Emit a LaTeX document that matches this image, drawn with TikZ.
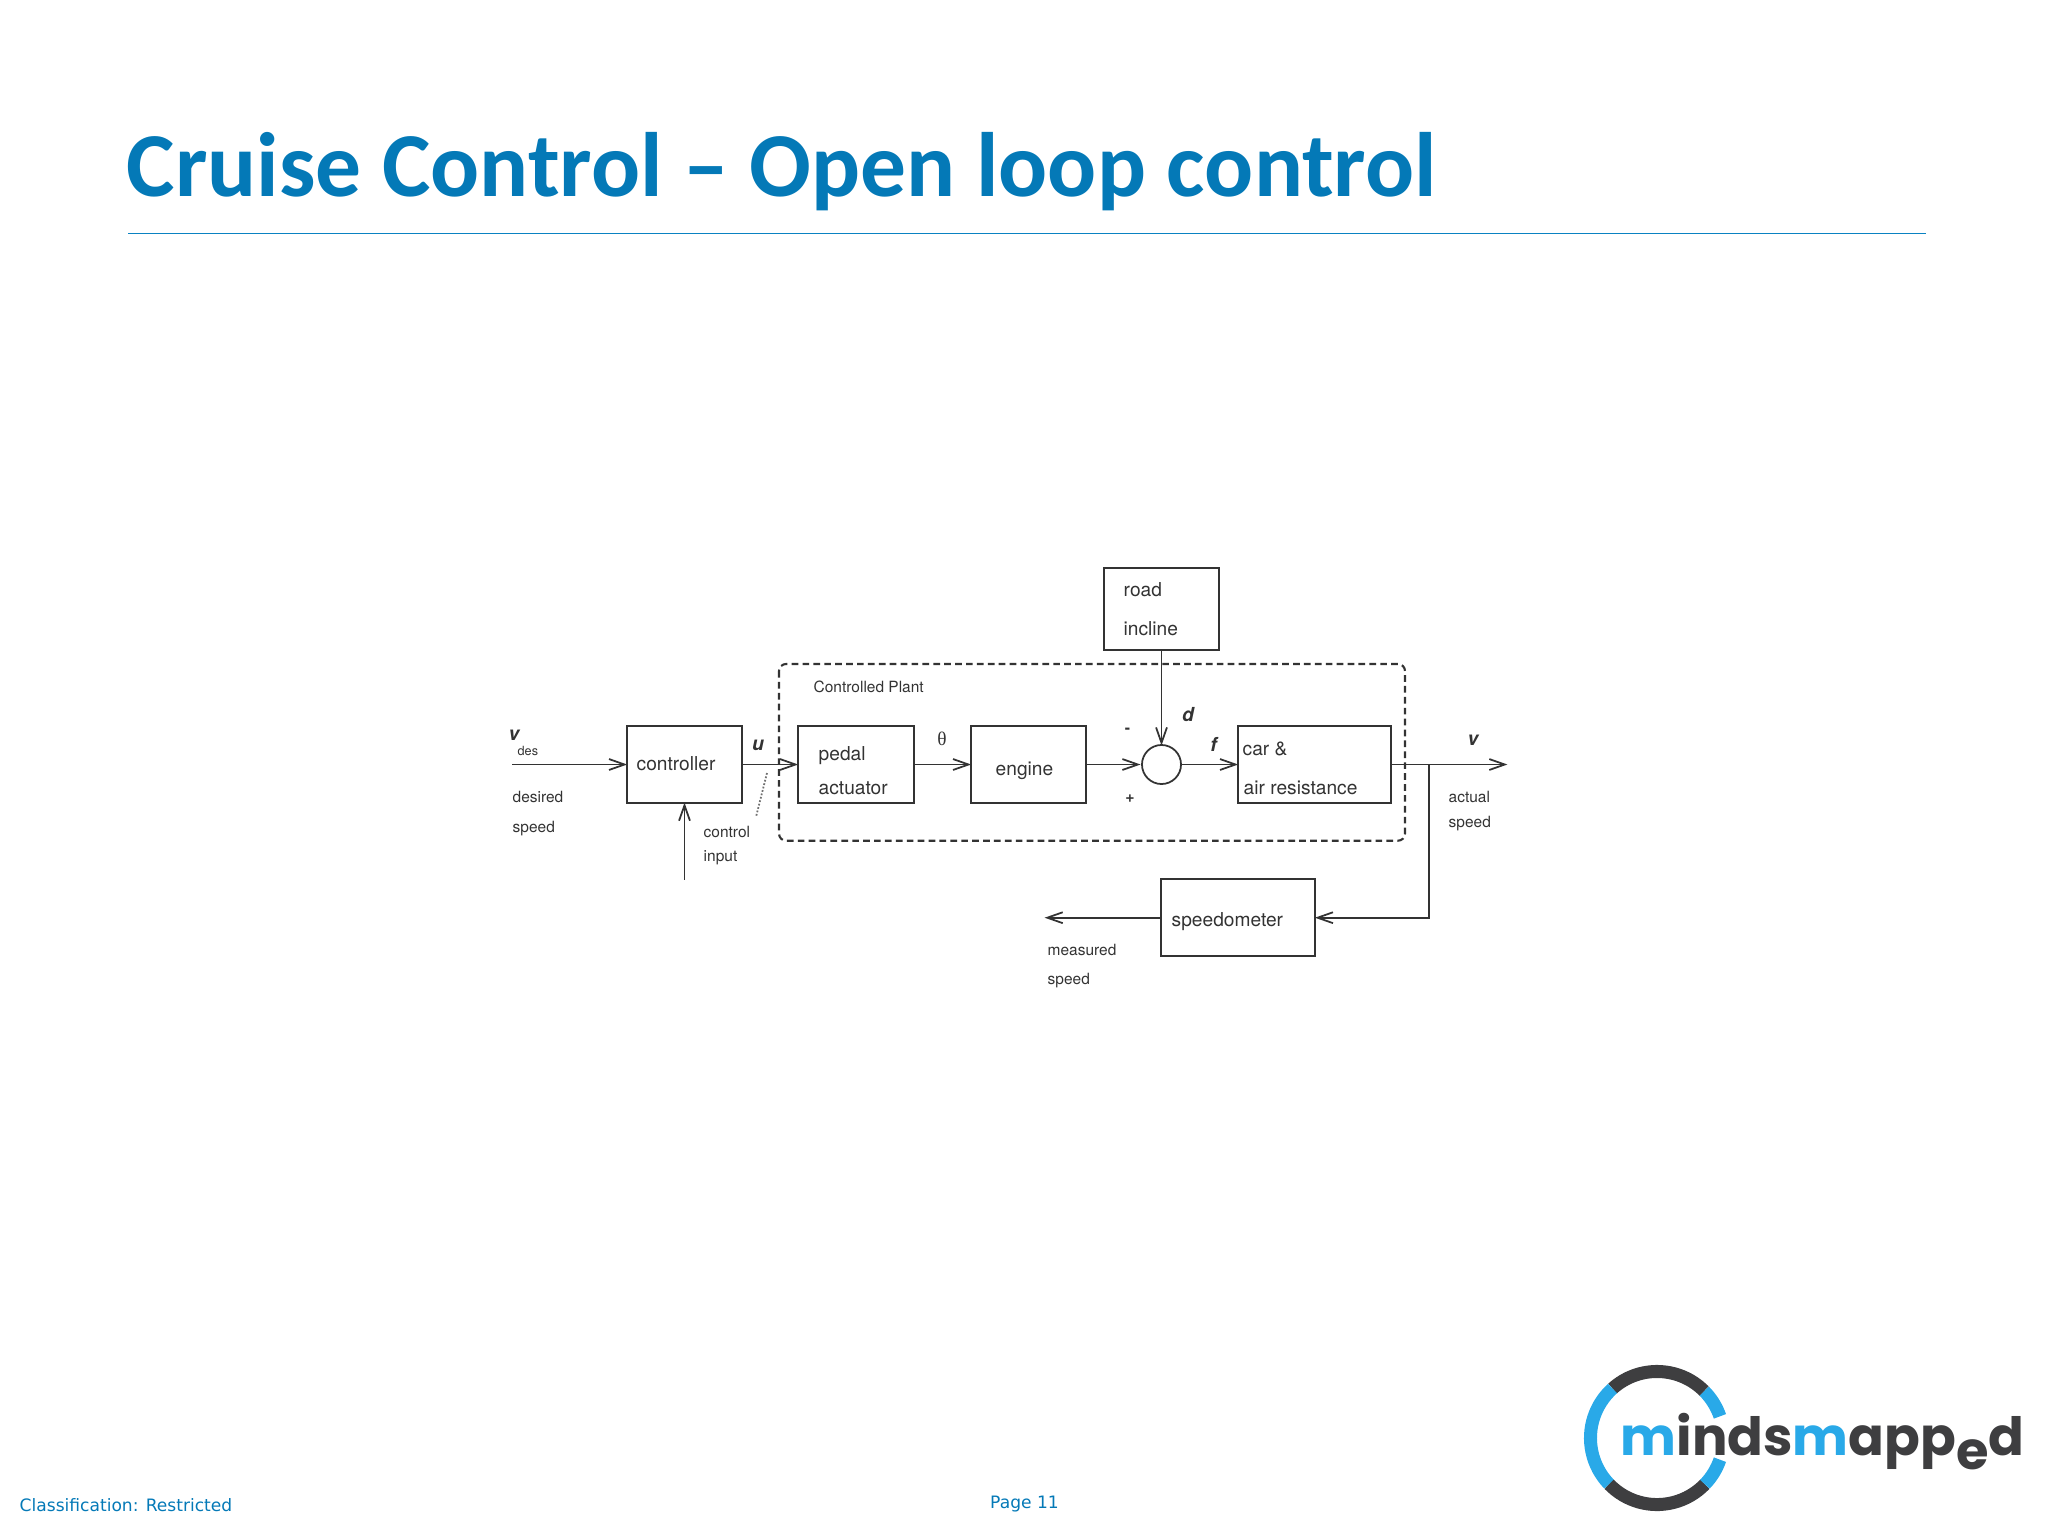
\documentclass[tikz,border=0pt]{standalone}
\usepackage{fontspec}
\setmainfont{TeX Gyre Heros}
\newfontfamily\titlefont{Carlito}
\newfontfamily\footfont{DejaVu Sans}
\newfontfamily\logofont{Poppins}
\newfontfamily\thetafont{Liberation Serif}
\usetikzlibrary{calc,arrows.meta}
\definecolor{slideblue}{HTML}{0479B7}
\definecolor{ruleblue}{HTML}{0A82C2}
\definecolor{inkgray}{HTML}{333333}
\definecolor{logoblue}{HTML}{29A9E8}
\definecolor{logodark}{HTML}{3E3E40}
\tikzset{
    blockbox/.style={draw=inkgray,line width=0.7pt,inner sep=0pt},
    sig/.style={draw=inkgray,line width=0.5pt,shorten >=-0.4pt,-{Straight Barb[length=4.4pt,width=3.1pt]}},
    lbl/.style={anchor=base west,inner sep=0pt,text=inkgray,font=\fontsize{5.45}{6}\selectfont},
    smalllbl/.style={lbl,font=\fontsize{4.4}{5}\selectfont},
    symlbl/.style={anchor=center,inner sep=0pt,text=inkgray,font=\fontsize{5.5}{6}\selectfont\bfseries\itshape},
    footlbl/.style={anchor=center,inner sep=0pt,text=slideblue,font=\footfont\fontsize{4.86}{6}\selectfont}
}

\begin{document}
\begin{tikzpicture}[x=0.01cm,y=-0.01cm]
        % Fix the page to the size of the slide
        \useasboundingbox (0,0) rectangle (2048,1536);
        % Title and the rule under it
        \node[anchor=west,inner sep=0pt,text=slideblue,font=\titlefont\fontsize{26}{28}\selectfont\bfseries] (title) at (126,172) {Cruise Control – Open loop control};
        \coordinate (ruleL) at (128,233.5);
        \coordinate (ruleR) at (1926,233.5);
        \draw[ruleblue,line width=0.5pt] (ruleL) -- (ruleR);
        % Blocks of the loop
        \node[blockbox,minimum width=1.15cm,minimum height=0.765cm] (controller) at (684.5,764.5) {};
        \node[blockbox,minimum width=1.16cm,minimum height=0.765cm] (pedal) at (856,764.5) {};
        \node[blockbox,minimum width=1.15cm,minimum height=0.765cm] (engine) at (1028.5,764.5) {};
        \node[blockbox,minimum width=1.53cm,minimum height=0.765cm] (car) at (1314.5,764.5) {};
        \node[blockbox,minimum width=1.15cm,minimum height=0.815cm] (road) at (1161.5,609) {};
        \node[blockbox,minimum width=1.54cm,minimum height=0.77cm] (speedometer) at (1238,917.7) {};
        \node[draw=inkgray,line width=0.5pt,circle,inner sep=0pt,minimum size=0.39cm] (sum) at (1161.5,764.5) {};
        % The dashed frame round the plant
        \draw[inkgray,line width=0.6pt,dash pattern=on 1.9pt off 1.2pt,rounded corners=2pt] (779,664) rectangle (1405,840.7);
        % Free ends of the signals
        \coordinate (vin) at (512,764.5);
        \coordinate (vout) at (1506,764.5);
        \coordinate (branch) at (1429,764.5);
        \coordinate (ctrlin) at (684.5,879.5);
        \coordinate (measured) at (1046,917.7);
        % Signals between the blocks
        \draw[sig] (vin) -- (controller.west);
        \draw[sig] (controller.east) -- (pedal.west);
        \draw[sig] (ctrlin) -- (controller.south);
        \draw[sig] (pedal.east) -- (engine.west);
        \draw[sig] (engine.east) -- ($(sum.west)+(-0.02cm,0)$);
        \draw[sig] (sum.east) -- (car.west);
        \draw[sig] (road.south) -- (sum.north);
        \draw[sig] (car.east) -- (vout);
        \draw[sig] (branch) |- (speedometer.east);
        \draw[sig] (speedometer.west) -- (measured);
        % Dotted leader of the control input
        \coordinate (leadA) at (767,773);
        \coordinate (leadB) at (756,817);
        \draw[inkgray!70,line width=0.5pt,dash pattern=on 0.5pt off 0.5pt] (leadA) -- (leadB);
        % Texts in the blocks
        \node[lbl] (tcontroller) at (636,770) {controller};
        \node[lbl] (tpedal) at (818,760) {pedal};
        \node[lbl] (tactuator) at (818,794.3) {actuator};
        \node[lbl] (tengine) at (995,775) {engine};
        \node[lbl] (troad) at (1123,596.7) {road};
        \node[lbl] (tincline) at (1123,635) {incline};
        \node[lbl] (tcar) at (1242,755.7) {car \&};
        \node[lbl] (tair) at (1243,794.3) {air resistance};
        \node[lbl] (tspeedo) at (1171,926.7) {speedometer};
        % Texts beside the signals
        \node[smalllbl] (tplant) at (813,692) {Controlled Plant};
        \node[smalllbl] (tdesired) at (512,802.5) {desired};
        \node[smalllbl] (tspeedA) at (512,832.7) {speed};
        \node[smalllbl] (tcontrol) at (703,837.3) {control};
        \node[smalllbl] (tinput) at (703,861) {input};
        \node[smalllbl] (tactual) at (1448,802.5) {actual};
        \node[smalllbl] (tspeedB) at (1448,827.7) {speed};
        \node[smalllbl] (tmeasured) at (1047,955) {measured};
        \node[smalllbl] (tspeedC) at (1047,984.3) {speed};
        \node[smalllbl,font=\fontsize{3.6}{4}\selectfont] (tdes) at (517,755) {des};
        % Signal names
        \node[symlbl] (tv) at (514,735) {v};
        \node[symlbl] (tu) at (758,745) {u};
        \node[symlbl] (td) at (1188,715) {d};
        \node[symlbl] (tf) at (1213.5,744) {f};
        \node[symlbl] (tvout) at (1473,740) {v};
        \node[symlbl,font=\fontsize{4.5}{5}\selectfont\bfseries] (tminus) at (1127.5,730.3) {-};
        \node[symlbl,font=\fontsize{4.5}{5}\selectfont\bfseries] (tplus) at (1130,799) {+};
        \node[anchor=center,inner sep=0pt,text=inkgray,font=\thetafont\fontsize{5.5}{6}\selectfont] (ttheta) at (942,739.3) {θ};
        % Footer
        \node[footlbl] (tclass) at (126,1505) {Classification: Restricted};
        \node[footlbl] (tpage) at (1024.5,1504) {Page 11};
        % Ring of the logo
        \coordinate (logoC) at (1657,1438);
        \foreach \a/\b/\c in {19/45/logoblue,45/132/logodark,132/224/logoblue,224/316/logodark,316/341/logoblue}
            \draw[\c,line width=3.7pt] ($(logoC)+(\a:0.665cm)$) arc (\a:\b:0.665cm);
        % Name of the logo
        \node[anchor=base west,inner sep=0pt,text=logodark,font=\logofont\fontsize{15}{16}\selectfont\bfseries] (logoname) at (1620,1455) {\textcolor{logoblue}{m}inds\textcolor{logoblue}{m}app\raisebox{-4pt}{e}d};
    \end{tikzpicture}
\end{document}
